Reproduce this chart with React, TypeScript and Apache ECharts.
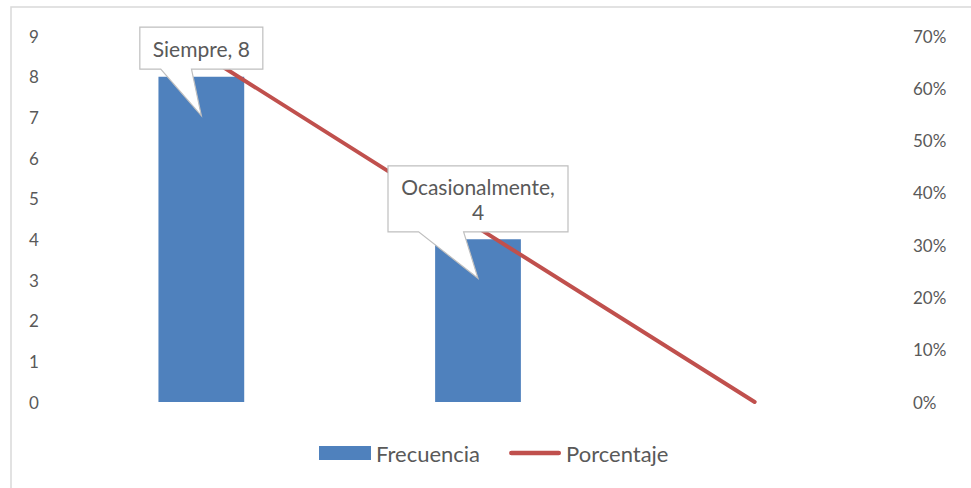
import React, { useEffect, useRef } from "react";
import * as echarts from "echarts";

const categories = ["Siempre", "Ocasionalmente", "Nunca"];
const frecuencia = [8, 4, 0];
const porcentaje = [0.667, 0.333, 0];
const leftTicks = { min: 0, max: 9, interval: 1 };
const rightTicks = { min: 0, max: 0.7, interval: 0.1 };
const calloutLines = [["Siempre, 8"], ["Ocasionalmente,", "4"], []];

const FONT = "Lato, 'Open Sans', sans-serif";
const TXT = "#595959";
const LINE_ICON = "path://M2.5,0 H52.5 A2.5,2.5 0 0 1 52.5,5 H2.5 A2.5,2.5 0 0 1 2.5,0 Z";

export default function App() {
  const ref = useRef<HTMLDivElement>(null);
  useEffect(() => {
    if (!ref.current) return;
    const chart = echarts.init(ref.current, undefined, { renderer: "svg" });
    chart.setOption({
      animation: false,
      backgroundColor: "#ffffff",
      textStyle: { fontFamily: FONT },
      grid: { left: 63, right: 78, top: 36, bottom: 86, containLabel: false },
      xAxis: {
        type: "category",
        data: categories,
        axisLine: { show: false },
        axisTick: { show: false },
        axisLabel: { show: false },
        splitLine: { show: false },
      },
      yAxis: [
        {
          type: "value",
          ...leftTicks,
          axisLine: { show: false },
          axisTick: { show: false },
          splitLine: { show: false },
          axisLabel: { color: TXT, fontSize: 17, fontFamily: FONT, align: "left", margin: 34 },
        },
        {
          type: "value",
          ...rightTicks,
          axisLine: { show: false },
          axisTick: { show: false },
          splitLine: { show: false },
          axisLabel: {
            color: TXT,
            fontSize: 17,
            fontFamily: FONT,
            margin: 20,
            formatter: (v: number) => Math.round(v * 100) + "%",
          },
        },
      ],
      legend: {
        left: 319,
        top: 442,
        padding: 0,
        itemWidth: 52,
        itemHeight: 14,
        itemGap: 29,
        textStyle: { color: TXT, fontSize: 22, fontFamily: FONT },
        data: [
          { name: "Frecuencia", icon: "rect" },
          { name: "Porcentaje", icon: LINE_ICON },
        ],
      },
      series: [
        {
          name: "Frecuencia",
          type: "bar",
          data: frecuencia,
          barWidth: "31%",
          itemStyle: { color: "#4F81BD" },
          z: 1,
        },
        {
          name: "Porcentaje",
          type: "line",
          yAxisIndex: 1,
          data: porcentaje,
          symbol: "none",
          lineStyle: { color: "#C0504D", width: 4, cap: "round" },
          itemStyle: { color: "#C0504D" },
          z: 2,
        },
      ],
    });

    const boxWidths = [123, 180];
    const graphics: any[] = [
      {
        type: "rect",
        shape: { x: 11, y: 7, width: 1000, height: 600 },
        style: { fill: "none", stroke: "#d9d9d9", lineWidth: 1.5 },
        silent: true,
        z: 0,
      },
    ];
    calloutLines.forEach((lines, i) => {
      if (!lines.length) return;
      const [cx, cy] = chart.convertToPixel({ xAxisIndex: 0, yAxisIndex: 0 }, [i, frecuencia[i]]) as number[];
      const w = boxWidths[i] ?? 150;
      const h = 18 + lines.length * 24;
      const L = cx - w / 2;
      const R = cx + w / 2;
      const B = cy - 7.5;
      const T = B - h;
      graphics.push({
        type: "polygon",
        shape: {
          points: [
            [L, T],
            [R, T],
            [R, B],
            [L + w * 0.42, B],
            [cx, cy + 39],
            [L + w * 0.17, B],
            [L, B],
          ],
        },
        style: { fill: "#ffffff", stroke: "#bfbfbf", lineWidth: 1.2 },
        z: 10,
      });
      graphics.push({
        type: "text",
        x: cx,
        y: (T + B) / 2,
        style: {
          text: lines.join("\n"),
          fill: TXT,
          font: `21px ${FONT}`,
          align: "center",
          verticalAlign: "middle",
          lineHeight: 25,
        },
        z: 11,
      });
    });
    chart.setOption({ graphic: graphics });
    return () => chart.dispose();
  }, []);
  return <div ref={ref} style={{ width: 971, height: 488, position: "absolute", left: 0, top: 0 }} />;
}
